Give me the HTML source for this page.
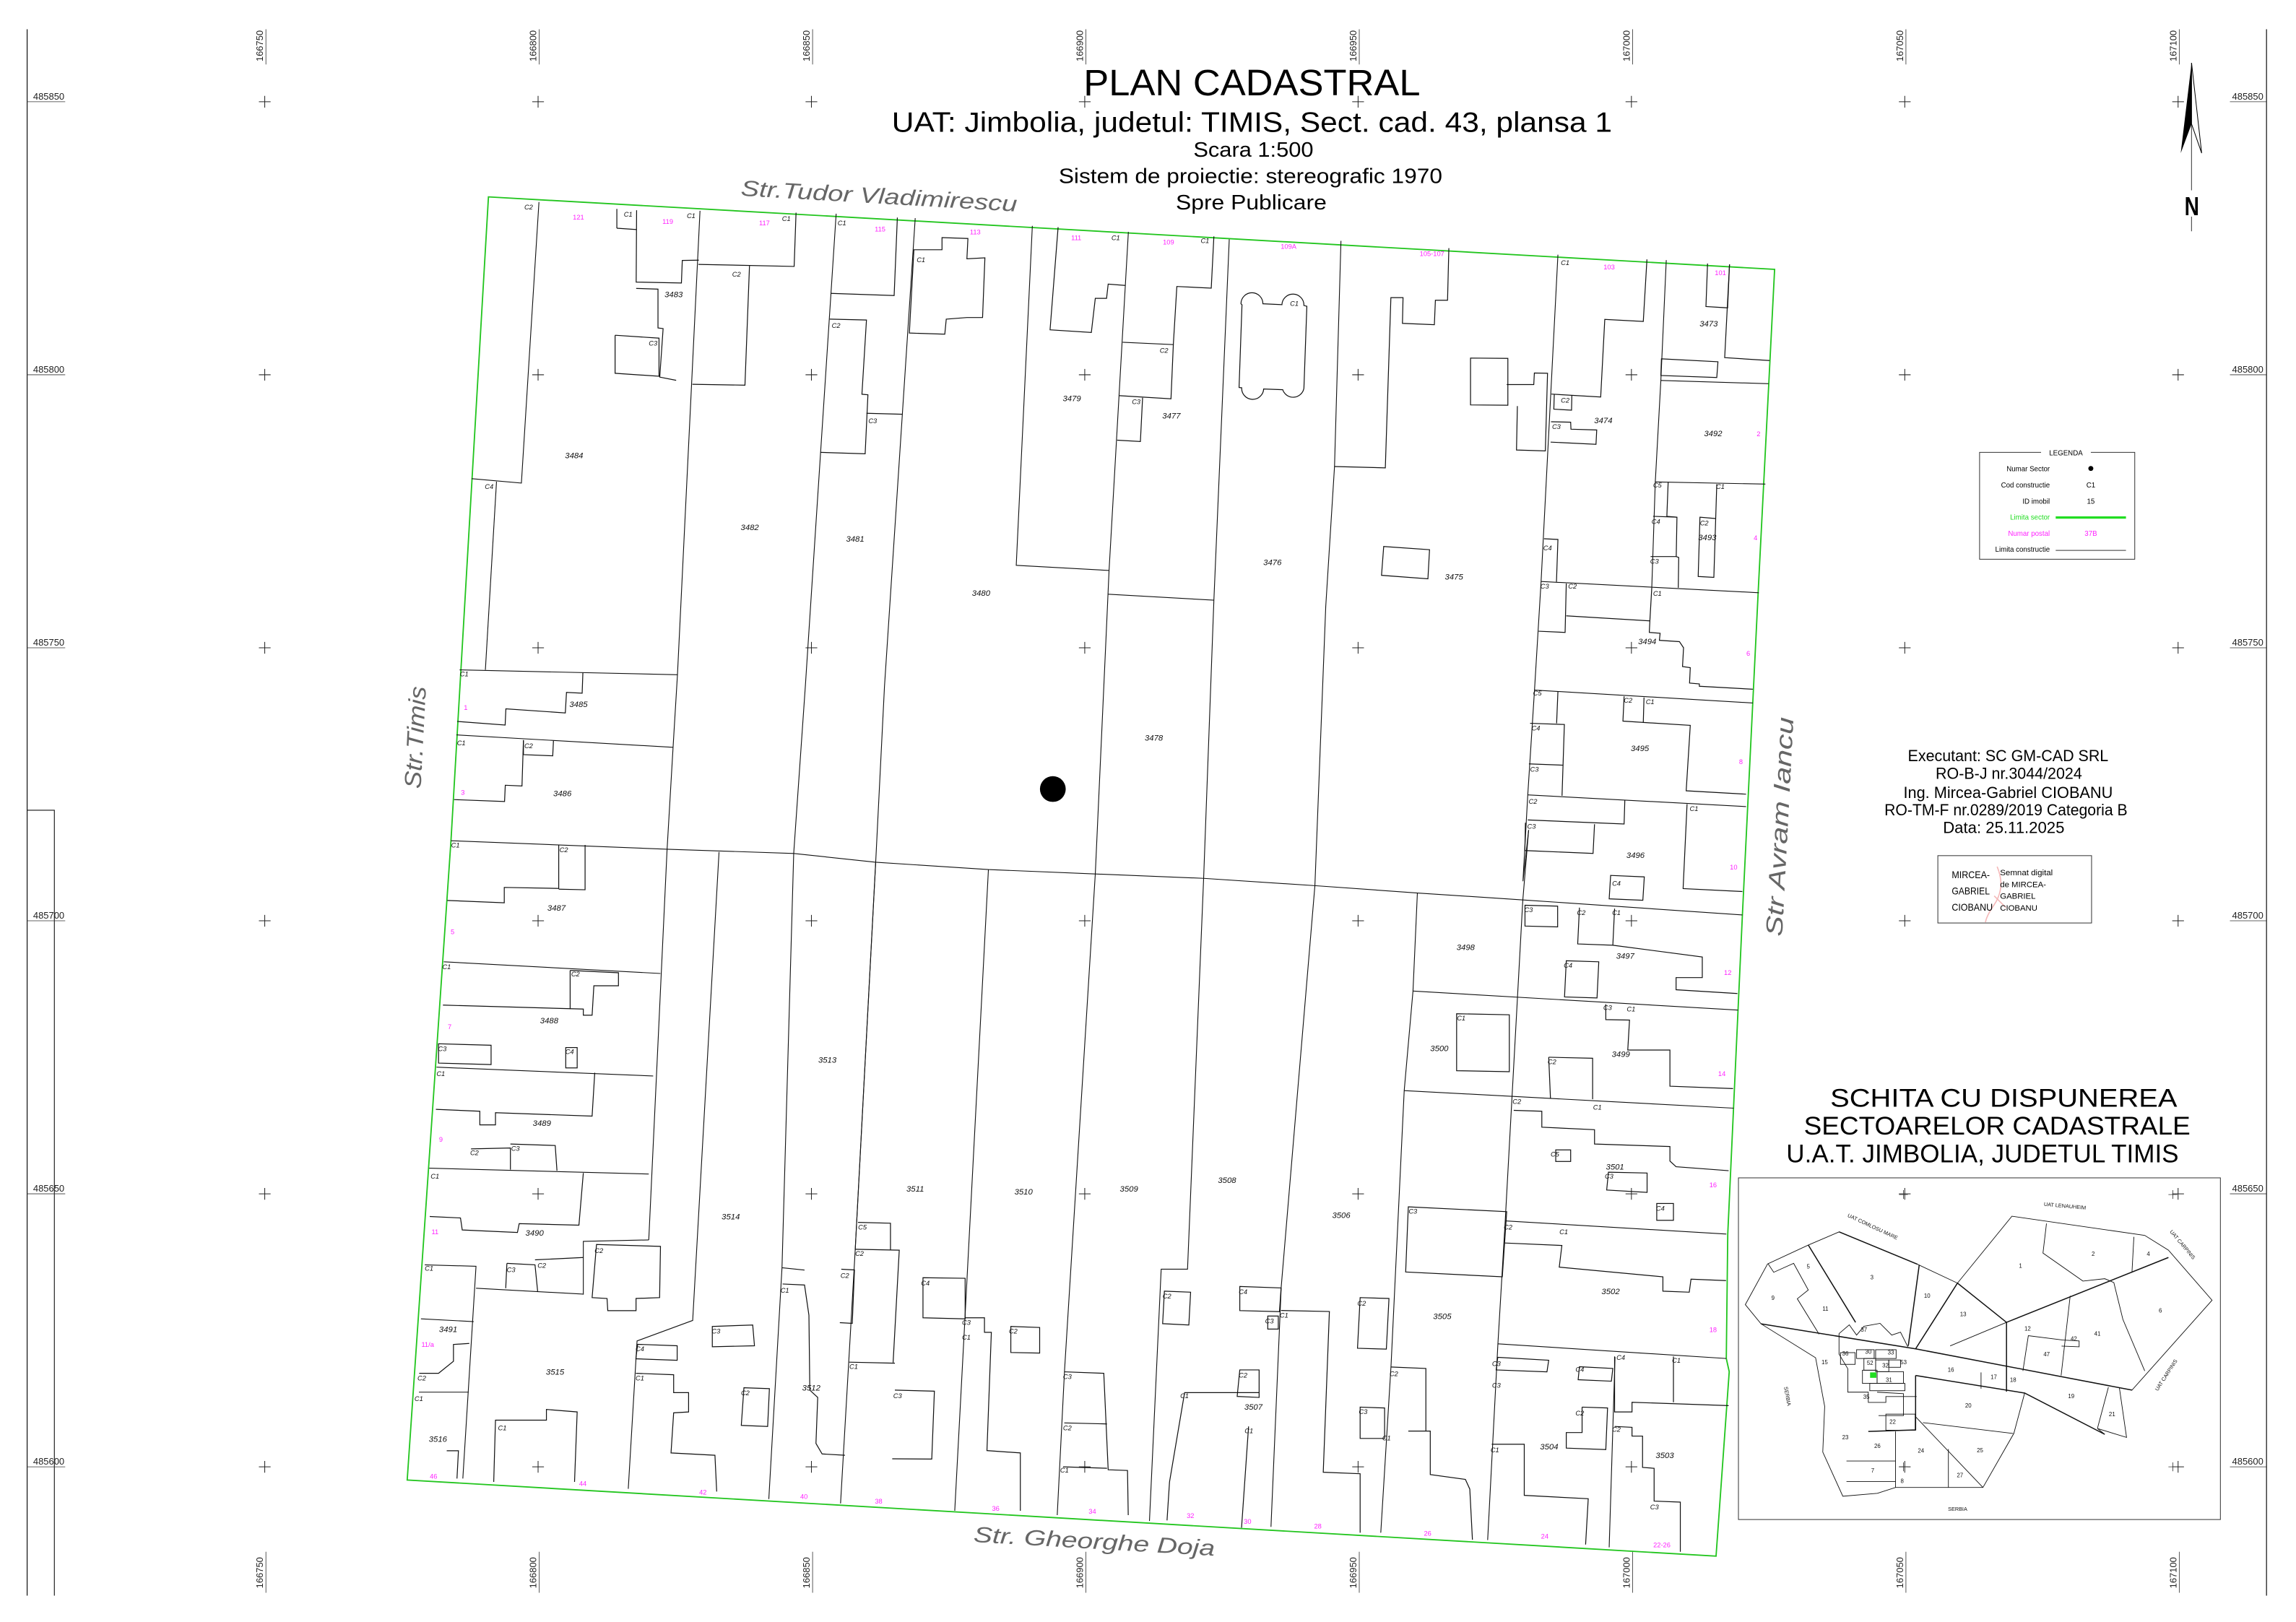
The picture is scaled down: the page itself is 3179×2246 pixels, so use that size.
<!DOCTYPE html>
<html><head><meta charset="utf-8"><style>
html,body{margin:0;padding:0;background:#fff;}
svg{display:block;}
.l{fill:none;stroke:#111;stroke-width:0.55;}
.t{fill:none;stroke:#111;stroke-width:0.6;}
.g{fill:none;stroke:#22c51e;stroke-width:0.9;}
text{font-family:"Liberation Sans",sans-serif;}
.p{font-size:5.6px;font-style:italic;fill:#111;text-anchor:middle;}
.c{font-size:4.6px;font-style:italic;fill:#111;}
.m{font-size:4.6px;fill:#ff22ff;text-anchor:middle;}
.ax{font-size:6.4px;fill:#222;}
.in{font-size:3.9px;fill:#111;text-anchor:middle;}
.inl{font-size:3.6px;fill:#111;text-anchor:middle;}
</style></head><body>
<svg width="3179" height="2246" viewBox="0 0 1568 1108" xmlns="http://www.w3.org/2000/svg">
<rect width="1568" height="1108" fill="#fff"/>
<line x1="18.4" y1="20" x2="18.4" y2="1090" stroke="#111" stroke-width="0.6"/>
<line x1="1548" y1="20" x2="1548" y2="1090" stroke="#111" stroke-width="0.6"/>
<polyline points="18.4,553.5 37,553.5 37,1090" class="l"/>
<g stroke="#222" stroke-width="0.5">
<path d="M176.7 69.5h8M180.7 65.5v8M363.4 69.5h8M367.4 65.5v8M550.1 69.5h8M554.1 65.5v8M736.8 69.5h8M740.8 65.5v8M923.5 69.5h8M927.5 65.5v8M1110.2 69.5h8M1114.2 65.5v8M1296.9 69.5h8M1300.9 65.5v8M1483.6 69.5h8M1487.6 65.5v8"/>
<path d="M176.7 256h8M180.7 252v8M363.4 256h8M367.4 252v8M550.1 256h8M554.1 252v8M736.8 256h8M740.8 252v8M923.5 256h8M927.5 252v8M1110.2 256h8M1114.2 252v8M1296.9 256h8M1300.9 252v8M1483.6 256h8M1487.6 252v8"/>
<path d="M176.7 442.5h8M180.7 438.5v8M363.4 442.5h8M367.4 438.5v8M550.1 442.5h8M554.1 438.5v8M736.8 442.5h8M740.8 438.5v8M923.5 442.5h8M927.5 438.5v8M1110.2 442.5h8M1114.2 438.5v8M1296.9 442.5h8M1300.9 438.5v8M1483.6 442.5h8M1487.6 438.5v8"/>
<path d="M176.7 629h8M180.7 625v8M363.4 629h8M367.4 625v8M550.1 629h8M554.1 625v8M736.8 629h8M740.8 625v8M923.5 629h8M927.5 625v8M1110.2 629h8M1114.2 625v8M1296.9 629h8M1300.9 625v8M1483.6 629h8M1487.6 625v8"/>
<path d="M176.7 815.5h8M180.7 811.5v8M363.4 815.5h8M367.4 811.5v8M550.1 815.5h8M554.1 811.5v8M736.8 815.5h8M740.8 811.5v8M923.5 815.5h8M927.5 811.5v8M1110.2 815.5h8M1114.2 811.5v8M1296.9 815.5h8M1300.9 811.5v8M1483.6 815.5h8M1487.6 811.5v8"/>
<path d="M176.7 1002h8M180.7 998v8M363.4 1002h8M367.4 998v8M550.1 1002h8M554.1 998v8M736.8 1002h8M740.8 998v8M923.5 1002h8M927.5 998v8M1110.2 1002h8M1114.2 998v8M1296.9 1002h8M1300.9 998v8M1483.6 1002h8M1487.6 998v8"/>
</g>
<g class="ax">
<text transform="translate(179.5,42) rotate(-90)">166750</text>
<text transform="translate(366.2,42) rotate(-90)">166800</text>
<text transform="translate(552.9,42) rotate(-90)">166850</text>
<text transform="translate(739.6,42) rotate(-90)">166900</text>
<text transform="translate(926.3,42) rotate(-90)">166950</text>
<text transform="translate(1113,42) rotate(-90)">167000</text>
<text transform="translate(1299.7,42) rotate(-90)">167050</text>
<text transform="translate(1486.4,42) rotate(-90)">167100</text>
<text transform="translate(179.5,1085) rotate(-90)">166750</text>
<text transform="translate(366.2,1085) rotate(-90)">166800</text>
<text transform="translate(552.9,1085) rotate(-90)">166850</text>
<text transform="translate(739.6,1085) rotate(-90)">166900</text>
<text transform="translate(926.3,1085) rotate(-90)">166950</text>
<text transform="translate(1113,1085) rotate(-90)">167000</text>
<text transform="translate(1299.7,1085) rotate(-90)">167050</text>
<text transform="translate(1486.4,1085) rotate(-90)">167100</text>
<text x="22.5" y="68">485850</text><text x="22.5" y="254.5">485800</text><text x="22.5" y="441">485750</text><text x="22.5" y="627.5">485700</text><text x="22.5" y="814">485650</text><text x="22.5" y="1000.5">485600</text>
<text x="1524.5" y="68">485850</text><text x="1524.5" y="254.5">485800</text><text x="1524.5" y="441">485750</text><text x="1524.5" y="627.5">485700</text><text x="1524.5" y="814">485650</text><text x="1524.5" y="1000.5">485600</text>
</g>
<g stroke="#333" stroke-width="0.4">
<path d="M181.5 20v24M368.2 20v24M554.9 20v24M741.6 20v24M928.3 20v24M1115 20v24M1301.7 20v24M1488.4 20v24"/>
<path d="M181.5 1060v28M368.2 1060v28M554.9 1060v28M741.6 1060v28M928.3 1060v28M1115 1060v28M1301.7 1060v28M1488.4 1060v28"/>
<path d="M18.4 69.5h26M18.4 256h26M18.4 442.5h26M18.4 629h26M18.4 815.5h26M18.4 1002h26"/>
<path d="M1523 69.5h25M1523 256h25M1523 442.5h25M1523 629h25M1523 815.5h25M1523 1002h25"/>
</g>

<text x="855" y="65" text-anchor="middle" font-size="25" textLength="230" lengthAdjust="spacingAndGlyphs">PLAN CADASTRAL</text>
<text x="855" y="90" text-anchor="middle" font-size="19" textLength="492" lengthAdjust="spacingAndGlyphs">UAT: Jimbolia, judetul: TIMIS, Sect. cad. 43, plansa 1</text>
<text x="856" y="107" text-anchor="middle" font-size="14" textLength="82" lengthAdjust="spacingAndGlyphs">Scara 1:500</text>
<text x="854" y="125" text-anchor="middle" font-size="14" textLength="262" lengthAdjust="spacingAndGlyphs">Sistem de proiectie: stereografic 1970</text>
<text x="854.5" y="143" text-anchor="middle" font-size="14" textLength="103" lengthAdjust="spacingAndGlyphs">Spre Publicare</text>

<g fill="#666" font-style="italic">
<text transform="translate(600,139) rotate(3.3)" text-anchor="middle" font-size="15" textLength="189" lengthAdjust="spacingAndGlyphs">Str.Tudor  Vladimirescu</text>
<text transform="translate(747,1058) rotate(3.3)" text-anchor="middle" font-size="15" textLength="165" lengthAdjust="spacingAndGlyphs">Str.  Gheorghe  Doja</text>
<text transform="translate(289,504) rotate(-87)" text-anchor="middle" font-size="16" textLength="70" lengthAdjust="spacingAndGlyphs">Str.Timis</text>
<text transform="translate(1221,565) rotate(-87)" text-anchor="middle" font-size="16" textLength="150" lengthAdjust="spacingAndGlyphs">Str Avram  Iancu</text>
</g>

<polygon class="g" points="333.5,134.5 1212,184 1201,400 1190,625 1180,843 1179,928 1181,937 1172,1063 278,1011 307.9,574.3"/>

<g class="l">
<polyline points="307.9,574.3 455.5,580.1 542,583 598,589 675,594 748,597 822,600 898,605 968,610 1044,615 1190,625"/>
<polyline points="368,138 356,330 322,327"/><polyline points="339,329 331.4,457.6"/>
<polyline points="478,144 462.6,460.9 459.6,510.5 455.5,580.4 443,847"/>
<polyline points="571,146 550,468 542,583 534,866 525,1024"/>
<polyline points="625,149 604,469 598,589 584,854 574,1027"/>
<polyline points="705,154.3 694,386.2 757.4,389.7"/>
<polyline points="770.6,158.4 757.4,389.7 756.3,414.4 748,597 727,936 722,1035"/>
<polyline points="756.8,405.9 829,410"/>
<polyline points="839.5,163.5 829,410 822,600 811,867 793,867 785,1039"/>
<polyline points="915.8,164.5 911.4,318.7 905.4,414.4 898,605 875,879 868,1043"/>
<polyline points="1064,174 1052.5,397.2 1048,471.4 1043.4,543 1040.1,602 1044,567"/>
<polyline points="1138,177.7 1134.3,259.9 1130.5,329.2 1128.1,401.5"/>
<line x1="1134.3" y1="259.9" x2="1207.8" y2="262.1"/>
<line x1="1130.5" y1="329.2" x2="1205.7" y2="330.7"/>
<line x1="1052.5" y1="397.2" x2="1201.2" y2="404.9"/>
<line x1="1048" y1="471.4" x2="1197.1" y2="480.2"/>
<line x1="1043.4" y1="543" x2="1192.5" y2="551"/>
<line x1="313.8" y1="457.6" x2="462.6" y2="460.9"/>
<line x1="311.6" y1="502" x2="459.6" y2="510.5"/>
<polyline points="491,582 473,902 435,916 429,1017"/>
<polyline points="534,866 549.4,867.6"/>
<polyline points="598,589 584,854"/>
<polyline points="675,594 659,900 652,1032"/>
<polyline points="968,610 965,677 959,745 950,933 943,1047"/>
<polyline points="1044,567 1040,615 1028,834 1023,918 1016,1052"/>
<polyline points="1103,927 1099,1057"/>
<line x1="965" y1="677" x2="1187" y2="690"/>
<line x1="959" y1="745" x2="1184" y2="757"/>
<line x1="1028" y1="834" x2="1179" y2="843"/>
<line x1="1023" y1="918" x2="1179" y2="928"/>
<line x1="303" y1="657" x2="451" y2="665"/>
<line x1="298" y1="729" x2="446" y2="735"/>
<line x1="293" y1="798" x2="443" y2="802"/>
<polyline points="290,864 325,865 316,1010"/>
<polyline points="325,880 398,884"/>
<polyline points="443,847 398.3,848 398.3,884.4"/>
<line x1="286" y1="951" x2="320" y2="951"/>
<line x1="287.4" y1="900.9" x2="323.4" y2="902.8"/>
</g>

<g class="t">
<polyline points="421.2,155.9 421.2,142.7"/><polyline points="434.7,143.6 434.4,192.7 465.3,193.3 465.9,177.9 477.2,177.7"/>
<polyline points="434.7,156.8 421.2,155.9"/>
<polyline points="434.4,197 449.3,197.5 449.3,224 452.8,224.5 450.5,257.6 461.7,259.8"/>
<polyline points="420,229 450,231 450,257 420,255 420,229"/>
<polyline points="476.9,180.6 542.3,182 543.6,145.3"/><polyline points="511.8,181.6 508.7,263.1 472.8,262.5"/>
<polyline points="567.5,200.4 610.6,201.9 612.8,148.6"/>
<polyline points="566.6,218 591.7,218.6 588.6,269.3 592.7,269.7 590.8,310 560.3,309"/><polyline points="591.7,282.3 616.3,283"/>
<polygon points="624.1,170.6 643.3,170.6 643.3,162.3 661,162.9 660.3,176.8 672.6,176.1 671,216.9 660.3,216.9 646.2,218 645.2,228.3 621,227.5"/>
<polyline points="722.6,155.2 717.1,225.3 745.3,227.1 748,203.8 755.7,203.8 756.8,194.1 768.4,195"/>
<polyline points="829,161.5 827.2,196.8 803.7,195.7 801.3,235.4 766.7,233.8"/>
<polyline points="801.3,235.4 799.7,272.4 764.5,270.3"/>
<polyline points="780.3,271.7 778.8,301.6 762.9,300.7"/>
<path d="M847.5 207.5 a7.5 7.5 0 0 1 15 0 l13 0.6 a7.5 7.5 0 0 1 15 0.6 l2 0.5 -2 56 a7.5 7.5 0 0 1 -14.5 1 l-13 -0.5 a7.5 7.5 0 0 1 -15 -0.8 l-1.8 -0.2 2 -56.5 z"/>
<polyline points="911.4,318.7 946.1,319.6 949.9,203.3 958.2,203.3 957.8,220.9 979.6,221.8 980.3,205.1 988.6,205.1 989.5,169.5"/>
<polygon points="1004.3,244.6 1029.8,244.8 1029.8,276.8 1004.3,276.6"/>
<polyline points="1029,262.7 1047.5,262.7 1047.9,254.8 1056.9,255 1055.4,308 1035.7,307.4 1036.3,277.4"/>
<polygon points="945,373.3 976.3,375.5 975.2,395.4 943.5,393"/>
<polyline points="1124.8,177.2 1122.3,219.6 1096,218.2 1093.2,271.2 1059.5,269.2"/>
<polyline points="1061.5,269.5 1061.2,279.5 1073.3,280.2 1073.5,270"/>
<polyline points="1059.3,288.1 1072.7,288.4 1072.9,293.2 1090.5,293.7 1090,303.5 1059,302"/>
<polyline points="1054.5,368 1064,368.5 1063,397.5"/>
<polyline points="1166.2,180 1165.1,209.4 1179.9,210.3 1181.2,180.6"/>
<polyline points="1181.2,180.6 1177.9,244.3 1208.6,246.3"/>
<polygon points="1134.7,245.1 1173.3,247.1 1172.5,257.9 1134.3,256.5"/>
<polyline points="1139.3,329.2 1138.4,352.7 1145.3,353.3 1144.8,380.2 1127.3,380.2"/>
<line x1="1129" y1="352.7" x2="1145.3" y2="353.3"/>
<polyline points="1144.8,380.2 1146.5,380.8 1146.2,401.5"/>
<polyline points="1172.5,330.7 1170.5,394.4 1159.8,393.8 1161,353.3 1171.6,354.2"/>
<polyline points="1069.7,398.6 1068.9,432 1050.8,431.2"/><polyline points="1069.7,420.7 1126.8,424.1 1128.1,401.5"/>
<polyline points="1126.8,424.1 1126.4,432 1133.8,432.6 1133.3,437.4 1147,438.3 1149.8,442.5 1149.1,455.3 1154.4,456.1 1153.9,466.6 1160.6,467.2 1160.6,468.8 1197.1,470.8"/>
<polyline points="1064,472.3 1063.1,494.1"/><polyline points="1045,494.1 1068.4,494.9 1066.8,543.6"/><polyline points="1044.2,521.8 1067.7,522.7"/>
<polyline points="1109.2,475.7 1108.4,492.6 1122.3,493.5 1122.8,476.5"/>
<polyline points="1122.3,493.5 1154.4,495.5 1151.6,540.2 1192.5,542.5"/>
<polyline points="1043.4,560.1 1109.2,562.9 1109.7,546.4"/><polyline points="1041.8,562 1041.4,581 1088,583 1089,563"/>
<polyline points="1152.2,549.3 1149.5,607 1190,609"/>
<polygon points="1100,598 1123,599 1122,615 1099,614"/>
<polyline points="312.1,492.8 344.9,495.3 345.4,484.2 386,487 386.8,473 397.5,473.5 398,459.6"/>
<polyline points="310,546.2 344.5,547.5 345,536.4 356.4,536.9 357.4,505.6"/>
<polyline points="357.4,505.6 357.4,515.5 377.4,516.3 377.9,506"/>
<polygon points="1041.5,618.4 1063.8,619 1063.8,633.2 1041.5,632.6"/>
<polyline points="1078.7,620 1077.5,644.8 1101.5,645.7 1102.7,620.7"/>
<polyline points="1101.5,645.7 1162.6,653.7 1162.6,667.8 1144.7,667.8 1144.7,676.1 1186.6,678.7"/>
<polygon points="1069.7,656.3 1091.9,657 1090.7,681.7 1068.5,681"/>
<polyline points="1096.7,686 1096.7,696.5 1112.9,696.8 1111.7,717.3 1140.5,717.3 1140.5,742 1183.6,743.6"/>
<polyline points="1057.7,722.2 1058.9,750.2"/><polyline points="1087.7,750.9 1087.7,722.9 1057.7,722.2"/>
<polygon points="994.8,692.5 1030.8,693.2 1030.8,732.1 994.8,731.4"/>
<polyline points="1033.8,758.5 1053,759.1 1053,770 1089,771.7 1089,781.5 1140.5,783.2 1140.5,793.1 1144.7,797 1180.6,799.7"/>
<rect x="1062.5" y="785.5" width="10.2" height="7.9"/>
<polygon points="1098.5,800.7 1124.9,801.3 1124.9,814.5 1097.3,812.9"/>
<rect x="1131.5" y="822.1" width="11.4" height="11.5"/>
<polyline points="1027.8,849.1 1066.7,850.8 1064.9,865.6 1135.7,872.2 1135.7,882 1153.7,882.7 1154.9,873.8 1178.8,874.8"/>
<polygon points="961.8,824.4 1029,827.7 1026,872.2 960,868.9"/>
<polygon points="1022.9,927.2 1057.7,929.2 1056.5,937.1 1021.8,935.8"/>
<polygon points="1078.7,933.6 1101.5,934.8 1100.5,943.5 1077.8,942.5"/>
<polyline points="1102.7,926.6 1102.7,964.5 1114.6,964.5 1114.6,957.9 1180.6,960.2"/>
<line x1="1142.9" y1="926.6" x2="1142.9" y2="957.9"/>
<polyline points="1080.5,961.2 1097.9,961.8 1096.7,990.2 1069.7,989.2 1069.7,978.6 1080.5,978.6 1080.5,961.2"/>
<polyline points="1018.8,986.6 1041,986.6 1041,1021.5 1084.7,1023.8 1082.9,1055.1"/>
<polyline points="1102.7,974.4 1114.6,975 1114.6,981 1121.8,981 1121.8,1002.4 1129.7,1003 1129.7,1025.4 1147.6,1026.1 1147.6,1060"/>
<polyline points="949.8,933.8 973.8,934.8 973.8,977.6"/>
<polyline points="961.8,977.6 976.8,977.6 976.8,1007.3 1000.8,1010.6 1003.8,1017.2 1005.6,1051.8"/>
<polygon points="928.9,886.4 948.6,887 946.8,921.6 927.1,921"/>
<polyline points="874.9,895.2 907.9,895.9 903.7,1005.7 928.9,1006.7 928.9,1047"/>
<polygon points="928.9,961.2 945.6,961.8 945.6,982.6 928.9,982.6"/>
<polygon points="846.7,878.8 874.9,879.8 873.8,896 846.7,895.3"/>
<rect x="865.8" y="899" width="7.2" height="8.9"/>
<polygon points="846.7,935.8 859.9,935.8 859.9,954.6 844.9,953.9"/>
<polyline points="859.9,951.3 809,951.3 798.7,1012.3 797,1038.6"/>
<polyline points="852.7,974.4 847.9,1043.6"/>
<polygon points="795.2,882 813.1,882.7 811.9,905.1 794,904.2"/>
<polyline points="726.8,937.1 753.8,938.1 756.8,1004 770,1004.5 770.5,1035"/><line x1="726.8" y1="972" x2="756" y2="972.7"/><line x1="726" y1="1002" x2="756" y2="1003"/>
<polygon points="690.3,906.1 710,906.8 710,924.3 690.3,923.9"/>
<polyline points="659.1,900.2 672.3,900.2 672.3,910.1 677,910.1 674,990.9 696.8,992.5 696.8,1032"/>
<polygon points="630.3,872.8 659.1,873.2 659.1,900.9 630.3,900.2"/>
<polyline points="585.9,835 608.1,835.6 608.1,854"/>
<polyline points="584.1,853.4 614.1,854 609.9,930.8"/>
<polyline points="579.9,930.5 611.1,931.2"/>
<polyline points="611.1,949.6 638.1,950.3 636.3,996.7 609.3,996.5"/>
<polyline points="574.5,867 583.5,867.5 582,904 573.5,903.5"/>
<polyline points="534.4,877.1 549.4,877.8 552.4,898.5 553,949.6 558.4,954.6 557.2,986 561.4,993.2 577,994.1"/>
<polygon points="486.4,906.1 514,905.1 515.2,919.3 486.4,920"/>
<polygon points="435.4,918.3 462.4,919.3 462.4,929.2 434.2,928.2"/>
<polyline points="434.2,938.1 460,939.1 460,951.3 470.2,951.3 470.2,964.5 460,965.1 458.2,992.5 488.2,994.1 489.4,1018.9"/>
<polygon points="508,948 525.4,948.6 524.2,974.4 506.2,973.7"/>
<polyline points="337.1,1012.3 338.3,970.1 373.1,970.1 373.1,962.8 394.1,964.5 392.3,1012.3"/>
<polyline points="346.1,863 365.3,864 367.1,882.1"/><polyline points="365.3,860.6 398.3,859"/>
<polyline points="346.1,863 345.3,880"/>
<polygon points="407.3,850.1 451,851.4 450.4,886.4 434.3,887 434.3,895.3 415,895.3 414.5,887 404.3,886.4"/>
<polyline points="320.4,917.7 309.6,918.4 309.6,929.9 299.4,938.1 286.2,938.1"/>
<polyline points="305,991 313,991 312,1010"/>
<polyline points="293.4,831 314.4,832 315.6,840.2 353.3,841.9 354.5,835.9 395.3,836.9 398.3,801.3"/>
<polyline points="297.6,757.8 327.6,759.1 327.6,768.4 338.3,768.4 338.3,760.1 404.3,762.4 406.1,732.8"/>
<polyline points="321.6,784.8 348.5,784.2 348.5,799"/><polyline points="348.5,781.5 379.1,782.5 380.3,799.7"/>
<polygon points="299.4,713 335.3,714 335.3,727.2 299.4,726.2"/>
<rect x="386.3" y="715.6" width="7.8" height="13.9"/>
<polyline points="389.3,662.9 422.3,664.5 422.3,673.4 405.5,673.4 404.3,693.5 398.3,693.5 398.3,689.3 302.4,686.6"/>
<line x1="389.3" y1="662.9" x2="389.3" y2="689.3"/>
<polyline points="305.4,615.1 344.3,616.7 344.3,606.2 381.5,606.9 381.5,577.2"/>
<polyline points="399.5,577.2 399.5,607.8 381.5,607.4"/>
</g>

<circle cx="719" cy="539" r="8.8" fill="#000"/>

<g class="p">
<text x="460" y="203">3483</text><text x="392" y="313">3484</text><text x="512" y="362">3482</text><text x="584" y="370">3481</text><text x="670" y="407">3480</text>
<text x="732" y="274">3479</text><text x="800" y="286">3477</text><text x="869" y="386">3476</text><text x="993" y="396">3475</text><text x="1095" y="289">3474</text>
<text x="1167" y="223">3473</text><text x="1170" y="298">3492</text><text x="1166" y="369">3493</text><text x="1125" y="440">3494</text><text x="1120" y="513">3495</text>
<text x="1117" y="586">3496</text><text x="1110" y="655">3497</text><text x="1001" y="649">3498</text><text x="1107" y="722">3499</text><text x="983" y="718">3500</text>
<text x="1103" y="799">3501</text><text x="1100" y="884">3502</text><text x="1137" y="996">3503</text><text x="1058" y="990">3504</text><text x="985" y="901">3505</text>
<text x="916" y="832">3506</text><text x="856" y="963">3507</text><text x="838" y="808">3508</text><text x="771" y="814">3509</text><text x="699" y="816">3510</text>
<text x="625" y="814">3511</text><text x="554" y="950">3512</text><text x="565" y="726">3513</text><text x="499" y="833">3514</text><text x="379" y="939">3515</text>
<text x="299" y="985">3516</text><text x="788" y="506">3478</text><text x="395" y="483">3485</text><text x="384" y="544">3486</text><text x="380" y="622">3487</text>
<text x="375" y="699">3488</text><text x="370" y="769">3489</text><text x="365" y="844">3490</text><text x="306" y="910">3491</text>
</g>
<g class="m">
<text x="395" y="150">121</text><text x="456" y="153">119</text><text x="522" y="154">117</text><text x="601" y="158">115</text><text x="666" y="160">113</text>
<text x="735" y="164">111</text><text x="798" y="167">109</text><text x="880" y="170">109A</text><text x="978" y="175">105-107</text><text x="1099" y="184">103</text><text x="1175" y="188">101</text>
<text x="1201" y="298">2</text><text x="1199" y="369">4</text><text x="1194" y="448">6</text><text x="1189" y="522">8</text><text x="1184" y="594">10</text><text x="1180" y="666">12</text>
<text x="1176" y="735">14</text><text x="1170" y="811">16</text><text x="1170" y="910">18</text>
<text x="318" y="485">1</text><text x="316" y="543">3</text><text x="309" y="638">5</text><text x="307" y="703">7</text><text x="301" y="780">9</text><text x="297" y="843">11</text>
<text x="292" y="920">11/a</text><text x="296" y="1010">46</text><text x="398" y="1015">44</text><text x="480" y="1021">42</text><text x="549" y="1024">40</text><text x="600" y="1027">38</text>
<text x="680" y="1032">36</text><text x="746" y="1034">34</text><text x="813" y="1037">32</text><text x="852" y="1041">30</text><text x="900" y="1044">28</text><text x="975" y="1049">26</text>
<text x="1055" y="1051">24</text><text x="1135" y="1057">22-26</text>
</g>
<g class="c">
<text x="358" y="143">C2</text><text x="426" y="148">C1</text><text x="469" y="149">C1</text><text x="534" y="151">C1</text><text x="572" y="154">C1</text><text x="759" y="164">C1</text><text x="820" y="166">C1</text>
<text x="443" y="236">C3</text><text x="500" y="189">C2</text><text x="568" y="224">C2</text><text x="593" y="289">C3</text><text x="626" y="179">C1</text><text x="792" y="241">C2</text><text x="773" y="276">C3</text>
<text x="881" y="209">C1</text><text x="1066" y="181">C1</text><text x="1066" y="275">C2</text><text x="1060" y="293">C3</text><text x="331" y="334">C4</text>
<text x="1129" y="333">C5</text><text x="1172" y="334">C1</text><text x="1128" y="358">C4</text><text x="1161" y="359">C2</text><text x="1127" y="385">C3</text><text x="1054" y="376">C4</text>
<text x="1052" y="402">C3</text><text x="1071" y="402">C2</text><text x="1129" y="407">C1</text><text x="1047" y="475">C5</text><text x="1046" y="499">C4</text><text x="1045" y="527">C3</text>
<text x="1109" y="480">C2</text><text x="1124" y="481">C1</text><text x="1044" y="549">C2</text><text x="1043" y="566">C3</text><text x="1154" y="554">C1</text><text x="1101" y="605">C4</text>
<text x="314" y="462">C1</text><text x="312" y="509">C1</text><text x="358" y="511">C2</text><text x="308" y="579">C1</text><text x="382" y="582">C2</text>
<text x="1041" y="623">C3</text><text x="1077" y="625">C2</text><text x="1101" y="625">C1</text><text x="1068" y="661">C4</text><text x="1095" y="690">C3</text><text x="1111" y="691">C1</text>
<text x="995" y="697">C1</text><text x="1057" y="727">C2</text><text x="1033" y="754">C2</text><text x="1088" y="758">C1</text><text x="1059" y="790">C5</text><text x="1096" y="805">C3</text><text x="1131" y="827">C4</text>
<text x="962" y="829">C3</text><text x="1027" y="840">C2</text><text x="1065" y="843">C1</text><text x="1019" y="933">C3</text><text x="1019" y="948">C3</text><text x="1076" y="937">C4</text><text x="1104" y="929">C4</text><text x="1142" y="931">C1</text>
<text x="1076" y="967">C2</text><text x="1101" y="978">C2</text><text x="1018" y="992">C1</text><text x="1127" y="1031">C3</text><text x="949" y="940">C2</text><text x="944" y="984">C1</text>
<text x="927" y="892">C2</text><text x="874" y="900">C1</text><text x="928" y="966">C3</text><text x="846" y="884">C4</text><text x="864" y="904">C3</text><text x="846" y="941">C2</text><text x="806" y="955">C1</text><text x="850" y="979">C1</text>
<text x="794" y="887">C2</text><text x="726" y="942">C3</text><text x="726" y="977">C2</text><text x="724" y="1006">C1</text><text x="689" y="911">C2</text><text x="657" y="905">C3</text><text x="657" y="915">C1</text>
<text x="629" y="878">C4</text><text x="586" y="840">C5</text><text x="584" y="858">C2</text><text x="574" y="873">C2</text><text x="580" y="935">C1</text><text x="610" y="955">C3</text><text x="533" y="883">C1</text>
<text x="486" y="911">C3</text><text x="434" y="923">C4</text><text x="434" y="943">C1</text><text x="506" y="953">C2</text><text x="340" y="977">C1</text>
<text x="346" y="869">C3</text><text x="367" y="866">C2</text><text x="406" y="856">C2</text><text x="290" y="868">C1</text><text x="285" y="943">C2</text><text x="283" y="957">C1</text>
<text x="294" y="805">C1</text><text x="321" y="789">C2</text><text x="349" y="786">C3</text><text x="298" y="735">C1</text><text x="299" y="718">C3</text><text x="386" y="720">C4</text>
<text x="302" y="662">C1</text><text x="390" y="667">C2</text>
</g>

<line x1="1496.8" y1="43" x2="1496.8" y2="158" stroke="#555" stroke-width="0.6"/>
<polygon points="1496.8,43 1489.4,104.6 1496.8,84.7" fill="#000"/>
<polygon points="1496.8,43 1503.7,104.6 1496.8,84.7" fill="#fff" stroke="#000" stroke-width="0.5"/>
<rect x="1491" y="130" width="12" height="18" fill="#fff"/>
<text x="1497" y="147" text-anchor="middle" font-size="18" font-weight="bold" textLength="10" lengthAdjust="spacingAndGlyphs">N</text>

<g>
<polyline points="1394,309 1352,309 1352,382 1458,382 1458,309 1428,309" fill="none" stroke="#333" stroke-width="0.5"/>
<text x="1411" y="311" text-anchor="middle" font-size="4.8">LEGENDA</text>
<g font-size="4.8" text-anchor="end">
<text x="1400" y="322">Numar Sector</text><text x="1400" y="333">Cod constructie</text><text x="1400" y="344">ID imobil</text>
<text x="1400" y="355" fill="#22dd22">Limita sector</text><text x="1400" y="366" fill="#ff22ff">Numar postal</text><text x="1400" y="377">Limita constructie</text>
</g>
<circle cx="1428" cy="320" r="1.7" fill="#000"/>
<g font-size="4.8" text-anchor="middle"><text x="1428" y="333">C1</text><text x="1428" y="344">15</text><text x="1428" y="366" fill="#ff22ff">37B</text></g>
<line x1="1404" y1="353.5" x2="1452" y2="353.5" stroke="#22dd22" stroke-width="1.6"/>
<line x1="1404" y1="376" x2="1452" y2="376" stroke="#333" stroke-width="0.5"/>
</g>

<g font-size="11" text-anchor="middle">
<text x="1371.5" y="520" textLength="137" lengthAdjust="spacingAndGlyphs">Executant: SC GM-CAD SRL</text>
<text x="1372" y="532" textLength="100" lengthAdjust="spacingAndGlyphs">RO-B-J nr.3044/2024</text>
<text x="1371.5" y="545" textLength="143" lengthAdjust="spacingAndGlyphs">Ing. Mircea-Gabriel CIOBANU</text>
<text x="1370" y="557" textLength="166" lengthAdjust="spacingAndGlyphs">RO-TM-F nr.0289/2019 Categoria B</text>
<text x="1368.5" y="569" textLength="83" lengthAdjust="spacingAndGlyphs">Data: 25.11.2025</text>
</g>
<rect x="1323.5" y="584.5" width="105" height="46" fill="none" stroke="#333" stroke-width="0.5"/>
<path d="M1364 592 q6 14 -2 26 q-5 7 -6 12 M1362 612 l8 8" fill="none" stroke="#f4b8b8" stroke-width="0.8"/>
<g font-size="7"><text x="1333" y="600" textLength="26" lengthAdjust="spacingAndGlyphs">MIRCEA-</text><text x="1333" y="611" textLength="26" lengthAdjust="spacingAndGlyphs">GABRIEL</text><text x="1333" y="622" textLength="28" lengthAdjust="spacingAndGlyphs">CIOBANU</text></g>
<g font-size="5.6"><text x="1366" y="598" textLength="36" lengthAdjust="spacingAndGlyphs">Semnat digital</text><text x="1366" y="606">de MIRCEA-</text><text x="1366" y="614">GABRIEL</text><text x="1366" y="622">CIOBANU</text></g>

<g font-size="17.5" text-anchor="middle">
<text x="1368.5" y="756" textLength="237" lengthAdjust="spacingAndGlyphs">SCHITA CU DISPUNEREA</text>
<text x="1364" y="775" textLength="264" lengthAdjust="spacingAndGlyphs">SECTOARELOR CADASTRALE</text>
<text x="1354" y="794" textLength="268" lengthAdjust="spacingAndGlyphs">U.A.T. JIMBOLIA, JUDETUL TIMIS</text>
</g>
<rect x="1187.3" y="804.6" width="329.2" height="233.4" fill="none" stroke="#333" stroke-width="0.5"/>
<g stroke="#333" stroke-width="0.4"><path d="M1297 816h6M1300 813v6M1481 816h6M1484 813v6M1297 1002h6M1300 999v6M1481 1002h6M1484 999v6"/></g>
<polygon points="1192,891.2 1207.2,863.4 1235,850.5 1256.1,841.5 1309.5,863.6 1336.9,876.5 1374.1,830.8 1464.8,843.9 1481,854 1510.8,888.2 1456.1,949.6 1447.5,948 1452.4,981.9 1432.5,975.8 1437.5,979.8 1382.8,951.6 1375.4,979.2 1354.3,1016.1 1294.6,1016.1 1282.2,1020.1 1258.6,1022.1 1244.9,991.9 1246.2,960.7 1240,927.5 1202.7,904.3" fill="none" stroke="#111" stroke-width="0.45"/>
<g fill="none" stroke="#111" stroke-width="0.75">
<polyline points="1202.7,904.3 1308.3,921.4 1456.1,949.6"/>
<polyline points="1308.3,921.4 1336.9,876.5 1370.4,903.3 1481,859"/>
<polyline points="1370.4,903.3 1370.4,950.6"/>
<polyline points="1235,850.5 1267.3,903.3"/>
<polyline points="1310.8,864 1303.3,919.4"/>
<polyline points="1308.3,939.6 1382.8,951.6 1437.5,979.8"/>
<polyline points="1276,977.8 1308.3,976.8 1308.3,939.6"/>
<polyline points="1256.1,841.5 1309.5,863.6"/>
</g>
<g fill="none" stroke="#111" stroke-width="0.45">
<polyline points="1331.9,919.4 1370.4,903.3"/>
<polyline points="1261.1,998 1294.6,998"/><polyline points="1261.1,1012.1 1294.6,1012.1"/>
<polyline points="1294.6,977.8 1294.6,1016.1"/>
<polyline points="1308.3,967.8 1354.3,1016.1"/>
<polyline points="1330.7,989.9 1330.7,1016.1"/>
<polyline points="1313.3,971.8 1374.9,979.2"/>
<polyline points="1413.9,885.2 1407.7,939.6"/>
<polyline points="1381.6,936.5 1385.3,912.4 1408.9,915.4"/>
<polyline points="1443.7,876.1 1449.9,901.3 1464.8,936.5"/>
<polyline points="1397.7,835.8 1395.3,856 1422.6,875.1 1437.5,873.5 1443.7,876.1"/>
<polyline points="1457.4,844.9 1456.1,869.1"/>
<polyline points="1440,947.6 1432.5,975.8"/>
<polyline points="1207.6,863.4 1211.4,869.1 1225,863 1235,881.2 1227.5,887.2 1242.4,911.4"/>
<polyline points="1353,937.5 1353,948.6"/>
<polyline points="1256,911 1256,925 1262,935 1262,951 1276,951 1276,958 1288,958 1288,954 1309,954"/>
<polyline points="1256,911 1263,905 1268,912 1273,906 1284,904 1292,912 1298,910 1303,920"/>
<rect x="1257" y="924" width="10" height="8"/><rect x="1268" y="922" width="12" height="6"/><rect x="1281" y="922" width="14" height="6"/>
<rect x="1273" y="928" width="8" height="8"/><rect x="1281" y="929" width="9" height="8"/><rect x="1290" y="929" width="8" height="5"/>
<rect x="1282" y="937" width="18" height="8"/><rect x="1272" y="936" width="10" height="9"/><rect x="1277" y="945" width="24" height="5"/>
<polyline points="1282,951 1300,952 1300,967 1283,967"/>
<rect x="1288" y="966" width="20" height="11"/>
<polyline points="1408.9,915.4 1420,916 1420,920 1408,919.5"/>
</g>
<rect x="1277.2" y="937.5" width="4.3" height="3.7" fill="#22dd22"/>
<g class="in">
<text x="1380" y="866">1</text><text x="1429.6" y="858">2</text><text x="1278.5" y="874">3</text><text x="1467.3" y="858">4</text><text x="1235" y="866.5">5</text><text x="1475.5" y="896.5">6</text>
<text x="1279" y="1006">7</text><text x="1299.1" y="1013">8</text><text x="1210.9" y="888">9</text><text x="1316.2" y="886.5">10</text><text x="1246.7" y="895.3">11</text><text x="1384.8" y="909">12</text>
<text x="1340.8" y="899">13</text><text x="1246.2" y="932">15</text><text x="1332.4" y="937">16</text><text x="1361.7" y="942">17</text><text x="1374.9" y="944">18</text><text x="1414.6" y="955">19</text>
<text x="1344.3" y="961.5">20</text><text x="1442.5" y="967.5">21</text><text x="1292.6" y="972.5">22</text><text x="1260.3" y="983.3">23</text><text x="1312" y="992.3">24</text><text x="1352.3" y="992">25</text>
<text x="1282.2" y="989">26</text><text x="1338.6" y="1009">27</text><text x="1290.1" y="944">31</text><text x="1287.7" y="934">32</text><text x="1291.4" y="925.3">33</text><text x="1274.7" y="955.5">35</text>
<text x="1260.3" y="926">36</text><text x="1273" y="909.7">37</text><text x="1432.5" y="912.4">41</text><text x="1416.4" y="915.8">42</text><text x="1397.8" y="926.5">47</text><text x="1277.2" y="932.3">52</text>
<text x="1300.1" y="932">53</text><text x="1276" y="924.8">30</text>
</g>
<g class="inl">
<text transform="translate(1278.5,839) rotate(25)">UAT COMLOSU MARE</text>
<text transform="translate(1410.2,825) rotate(5)">UAT LENAUHEIM</text>
<text transform="translate(1489.7,851) rotate(50)">UAT CARPINIS</text>
<text transform="translate(1480.5,940) rotate(-57)">UAT CARPINIS</text>
<text transform="translate(1219.6,954) rotate(80)">SERBIA</text>
<text x="1337" y="1032">SERBIA</text>
</g>
</svg>
</body></html>
